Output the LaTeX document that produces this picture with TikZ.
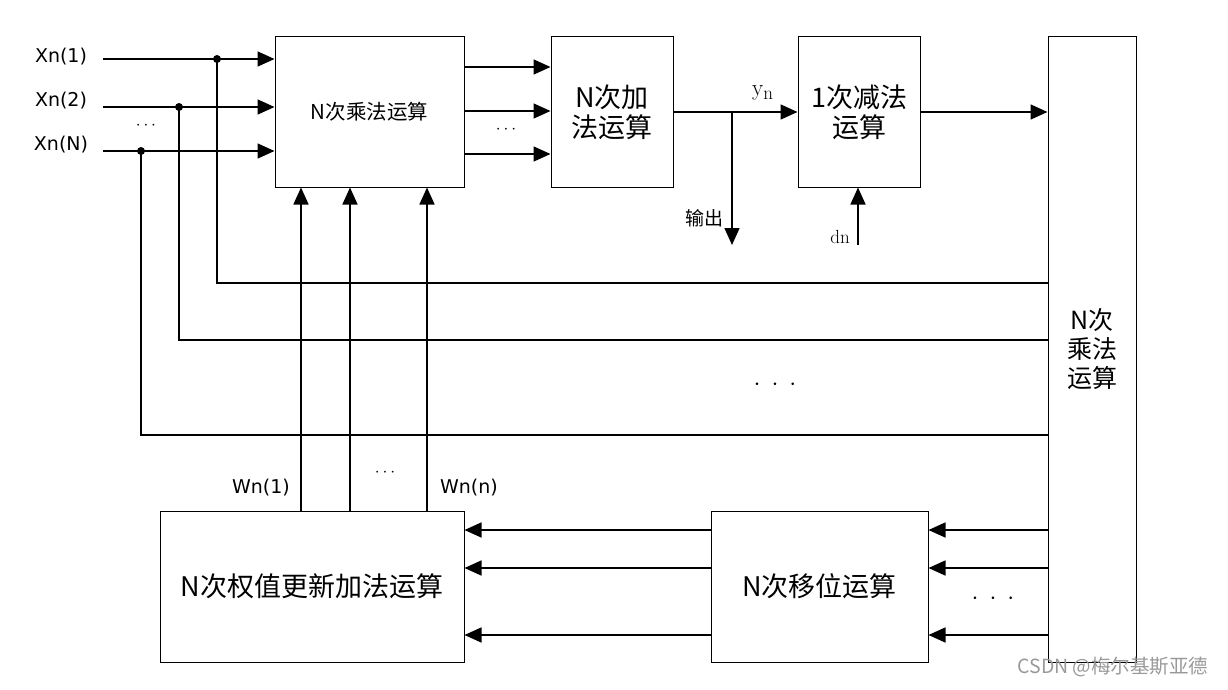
\documentclass[tikz,border=0pt]{standalone}
\usepackage{fontspec}
\newfontfamily\cjk{Noto Sans CJK SC}
\newfontfamily\lat{DejaVu Sans}
\usetikzlibrary{arrows.meta}
\begin{document}
\begin{tikzpicture}[x=1pt,y=-1pt,
  box/.style={draw,line width=1pt,inner sep=0pt,align=center},
  conn/.style={line width=1.6pt,-{Triangle[length=17pt,width=15pt]}},
  wire/.style={line width=1.6pt},
  dot/.style={circle,fill,inner sep=0pt,minimum size=8pt},
  lbl/.style={font=\lat\fontsize{19}{22}\selectfont,inner sep=0pt},
  big/.style={font=\cjk\fontsize{27}{30}\selectfont},
  dots/.style={font=\fontsize{24}{24}\selectfont\bfseries,inner sep=0pt},
  sdots/.style={font=\fontsize{17}{17}\selectfont,inner sep=0pt}]
\useasboundingbox (0,0) rectangle (1228,690);
% boxes
\node[box,minimum width=189pt,minimum height=150pt,font=\cjk\fontsize{20.5}{24}\selectfont] (A) at (369.5,112) {N次乘法运算};
\node[box,big,minimum width=122pt,minimum height=150pt] (B) at (612,112) {N次加\\法运算};
\node[box,big,minimum width=122pt,minimum height=150pt] (C) at (859,112) {1次减法\\运算};
\node[box,minimum width=88pt,minimum height=625pt] (D) at (1092,349.5) {};
\node[font=\cjk\fontsize{25}{29}\selectfont,align=center,inner sep=0pt] (Dt) at (1092,349) {N次\\乘法\\运算};
\node[box,big,minimum width=304pt,minimum height=151pt] (E) at (312,586.5) {N次权值更新加法运算};
\node[box,big,minimum width=217pt,minimum height=151pt] (F) at (819.5,586.5) {N次移位运算};
% inputs
\node[lbl] (x1) at (61,57) {Xn(1)};
\node[lbl] (x2) at (61,101) {Xn(2)};
\node[lbl] (xN) at (61,145) {Xn(N)};
\node[sdots] (ldots) at (146,126) {$\cdots$};
\coordinate (s1) at (103,59);
\coordinate (s2) at (103,107);
\coordinate (sN) at (103,151);
\draw[conn] (s1) -- (s1 -| A.west);
\draw[conn] (s2) -- (s2 -| A.west);
\draw[conn] (sN) -- (sN -| A.west);
\node[dot] (d1) at (217,59) {};
\node[dot] (d2) at (179,107) {};
\node[dot] (dN) at (141,151) {};
\coordinate (t1) at (217,283);
\coordinate (t2) at (179,340);
\coordinate (tN) at (141,435);
\draw[wire] (d1.center) -- (t1) -- (t1 -| D.west);
\draw[wire] (d2.center) -- (t2) -- (t2 -| D.west);
\draw[wire] (dN.center) -- (tN) -- (tN -| D.west);
\node[dots] (mdots) at (775,385) {$\cdot\:\cdot\:\cdot$};
% A -> B
\coordinate (ab1) at (0,67);
\coordinate (ab2) at (0,111);
\coordinate (ab3) at (0,154);
\draw[conn] (A.east |- ab1) -- (B.west |- ab1);
\draw[conn] (A.east |- ab2) -- (B.west |- ab2);
\draw[conn] (A.east |- ab3) -- (B.west |- ab3);
\node[sdots] (abdots) at (506,130) {$\cdots$};
% B -> C
\draw[conn] (B.east) -- (C.west);
\coordinate (br) at (732,112);
\coordinate (outend) at (732,245);
\draw[conn] (br) -- (outend);
\node[font=\cjk\fontsize{19}{20}\selectfont,inner sep=0pt] (out) at (704,218) {输出};
\node[font=\fontsize{23}{24}\selectfont,inner sep=0pt,anchor=base west] (yn) at (752,96) {y\raisebox{-4pt}{\fontsize{19}{19}\selectfont n}};
% dn
\coordinate (dnst) at (858,245);
\draw[conn] (dnst) -- (dnst |- C.south);
\node[font=\fontsize{19}{20}\selectfont,inner sep=0pt] (dn) at (840,237) {dn};
% C -> D
\draw[conn] (C.east) -- (C.east -| D.west);
% E -> A
\coordinate (w1) at (301,0);
\coordinate (w2) at (350,0);
\coordinate (w3) at (427,0);
\draw[conn] (w1 |- E.north) -- (w1 |- A.south);
\draw[conn] (w2 |- E.north) -- (w2 |- A.south);
\draw[conn] (w3 |- E.north) -- (w3 |- A.south);
\node[lbl] (wn1) at (261,488) {Wn(1)};
\node[sdots] (wdots) at (385,473) {$\cdots$};
\node[lbl] (wnn) at (469,488) {Wn(n)};
% D -> F -> E
\coordinate (r1) at (0,530);
\coordinate (r2) at (0,568);
\coordinate (r3) at (0,635);
\draw[conn] (D.west |- r1) -- (F.east |- r1);
\draw[conn] (D.west |- r2) -- (F.east |- r2);
\draw[conn] (D.west |- r3) -- (F.east |- r3);
\draw[conn] (F.west |- r1) -- (E.east |- r1);
\draw[conn] (F.west |- r2) -- (E.east |- r2);
\draw[conn] (F.west |- r3) -- (E.east |- r3);
\node[dots] (rdots) at (993,599) {$\cdot\:\cdot\:\cdot$};
% watermark
\node[font=\cjk\fontsize{19.5}{21}\selectfont,text=black!40,inner sep=0pt] (wm) at (1113,667) {CSDN @梅尔基斯亚德};
\end{tikzpicture}
\end{document}
